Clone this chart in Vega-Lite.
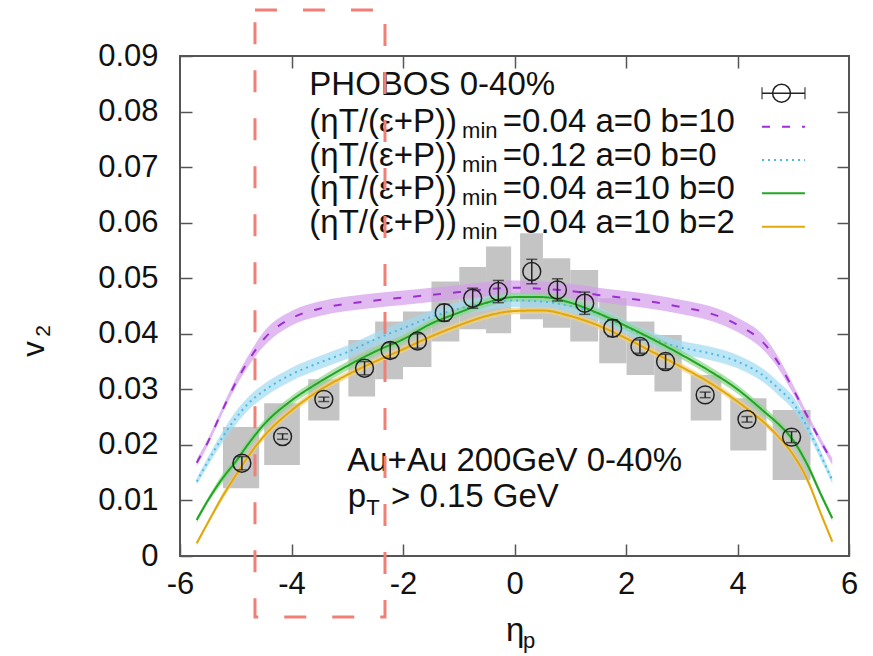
{
  "$schema": "https://vega.github.io/schema/vega-lite/v6.json",
  "width": 669,
  "height": 500,
  "autosize": {"type": "none"},
  "padding": {"left": 180, "top": 56, "right": 24, "bottom": 100},
  "background": "white",
  "config": {"view": {"stroke": "#555", "strokeWidth": 2}, "font": "Liberation Sans"},
  "datasets": {
    "phobos": [
      {"eta": -4.89, "v": 0.0167, "elo": 0.0155, "ehi": 0.0179, "eta_lo": -5.23, "eta_hi": -4.58, "sys_lo": 0.0122, "sys_hi": 0.0232},
      {"eta": -4.16, "v": 0.0215, "elo": 0.0210, "ehi": 0.0220, "eta_lo": -4.49, "eta_hi": -3.85, "sys_lo": 0.0164, "sys_hi": 0.0275},
      {"eta": -3.42, "v": 0.0282, "elo": 0.0278, "ehi": 0.0286, "eta_lo": -3.70, "eta_hi": -3.14, "sys_lo": 0.0244, "sys_hi": 0.0318},
      {"eta": -2.69, "v": 0.0338, "elo": 0.0326, "ehi": 0.0350, "eta_lo": -2.98, "eta_hi": -2.50, "sys_lo": 0.0287, "sys_hi": 0.0389},
      {"eta": -2.23, "v": 0.0370, "elo": 0.0356, "ehi": 0.0384, "eta_lo": -2.50, "eta_hi": -2.00, "sys_lo": 0.0318, "sys_hi": 0.0422},
      {"eta": -1.74, "v": 0.0387, "elo": 0.0374, "ehi": 0.0400, "eta_lo": -2.00, "eta_hi": -1.49, "sys_lo": 0.0340, "sys_hi": 0.0440},
      {"eta": -1.26, "v": 0.0438, "elo": 0.0423, "ehi": 0.0453, "eta_lo": -1.49, "eta_hi": -0.99, "sys_lo": 0.0386, "sys_hi": 0.0494},
      {"eta": -0.75, "v": 0.0464, "elo": 0.0446, "ehi": 0.0482, "eta_lo": -0.99, "eta_hi": -0.51, "sys_lo": 0.0408, "sys_hi": 0.0520},
      {"eta": -0.29, "v": 0.0476, "elo": 0.0456, "ehi": 0.0496, "eta_lo": -0.51, "eta_hi": -0.06, "sys_lo": 0.0401, "sys_hi": 0.0557},
      {"eta": 0.31, "v": 0.0512, "elo": 0.0490, "ehi": 0.0534, "eta_lo": 0.10, "eta_hi": 0.51, "sys_lo": 0.0426, "sys_hi": 0.0581},
      {"eta": 0.77, "v": 0.0479, "elo": 0.0459, "ehi": 0.0499, "eta_lo": 0.51, "eta_hi": 1.00, "sys_lo": 0.0411, "sys_hi": 0.0536},
      {"eta": 1.26, "v": 0.0455, "elo": 0.0435, "ehi": 0.0475, "eta_lo": 1.00, "eta_hi": 1.50, "sys_lo": 0.0386, "sys_hi": 0.0515},
      {"eta": 1.76, "v": 0.0410, "elo": 0.0395, "ehi": 0.0425, "eta_lo": 1.52, "eta_hi": 2.01, "sys_lo": 0.0347, "sys_hi": 0.0464},
      {"eta": 2.25, "v": 0.0377, "elo": 0.0365, "ehi": 0.0389, "eta_lo": 2.01, "eta_hi": 2.51, "sys_lo": 0.0326, "sys_hi": 0.0422},
      {"eta": 2.71, "v": 0.0350, "elo": 0.0337, "ehi": 0.0363, "eta_lo": 2.51, "eta_hi": 3.00, "sys_lo": 0.0296, "sys_hi": 0.0398},
      {"eta": 3.42, "v": 0.0290, "elo": 0.0285, "ehi": 0.0295, "eta_lo": 3.16, "eta_hi": 3.71, "sys_lo": 0.0244, "sys_hi": 0.0326},
      {"eta": 4.17, "v": 0.0246, "elo": 0.0241, "ehi": 0.0251, "eta_lo": 3.87, "eta_hi": 4.52, "sys_lo": 0.0190, "sys_hi": 0.0284},
      {"eta": 4.97, "v": 0.0214, "elo": 0.0204, "ehi": 0.0224, "eta_lo": 4.63, "eta_hi": 5.31, "sys_lo": 0.0137, "sys_hi": 0.0263}
    ],
    "curves": [
      {"s": "a0b10", "eta": -5.7, "v": 0.0168, "lo": 0.0162, "hi": 0.0174},
      {"s": "a0b10", "eta": -5.5, "v": 0.0205, "lo": 0.0199, "hi": 0.0211},
      {"s": "a0b10", "eta": -5.25, "v": 0.0260, "lo": 0.0254, "hi": 0.0266},
      {"s": "a0b10", "eta": -5.0, "v": 0.0312, "lo": 0.0304, "hi": 0.0320},
      {"s": "a0b10", "eta": -4.75, "v": 0.0355, "lo": 0.0345, "hi": 0.0365},
      {"s": "a0b10", "eta": -4.5, "v": 0.0390, "lo": 0.0377, "hi": 0.0403},
      {"s": "a0b10", "eta": -4.0, "v": 0.0428, "lo": 0.0415, "hi": 0.0441},
      {"s": "a0b10", "eta": -3.5, "v": 0.0445, "lo": 0.0432, "hi": 0.0458},
      {"s": "a0b10", "eta": -3.0, "v": 0.0454, "lo": 0.0441, "hi": 0.0467},
      {"s": "a0b10", "eta": -2.5, "v": 0.0460, "lo": 0.0447, "hi": 0.0473},
      {"s": "a0b10", "eta": -2.0, "v": 0.0465, "lo": 0.0452, "hi": 0.0478},
      {"s": "a0b10", "eta": -1.5, "v": 0.0470, "lo": 0.0457, "hi": 0.0483},
      {"s": "a0b10", "eta": -1.0, "v": 0.0475, "lo": 0.0462, "hi": 0.0488},
      {"s": "a0b10", "eta": -0.5, "v": 0.0480, "lo": 0.0467, "hi": 0.0493},
      {"s": "a0b10", "eta": 0.0, "v": 0.0483, "lo": 0.0470, "hi": 0.0496},
      {"s": "a0b10", "eta": 0.5, "v": 0.0481, "lo": 0.0468, "hi": 0.0494},
      {"s": "a0b10", "eta": 1.0, "v": 0.0477, "lo": 0.0464, "hi": 0.0490},
      {"s": "a0b10", "eta": 1.5, "v": 0.0470, "lo": 0.0457, "hi": 0.0483},
      {"s": "a0b10", "eta": 2.0, "v": 0.0464, "lo": 0.0451, "hi": 0.0477},
      {"s": "a0b10", "eta": 2.5, "v": 0.0457, "lo": 0.0444, "hi": 0.0470},
      {"s": "a0b10", "eta": 3.0, "v": 0.0448, "lo": 0.0435, "hi": 0.0461},
      {"s": "a0b10", "eta": 3.5, "v": 0.0437, "lo": 0.0424, "hi": 0.0450},
      {"s": "a0b10", "eta": 4.0, "v": 0.0416, "lo": 0.0403, "hi": 0.0429},
      {"s": "a0b10", "eta": 4.5, "v": 0.0380, "lo": 0.0367, "hi": 0.0393},
      {"s": "a0b10", "eta": 4.75, "v": 0.0345, "lo": 0.0335, "hi": 0.0355},
      {"s": "a0b10", "eta": 5.0, "v": 0.0300, "lo": 0.0292, "hi": 0.0308},
      {"s": "a0b10", "eta": 5.25, "v": 0.0252, "lo": 0.0246, "hi": 0.0258},
      {"s": "a0b10", "eta": 5.5, "v": 0.0205, "lo": 0.0199, "hi": 0.0211},
      {"s": "a0b10", "eta": 5.7, "v": 0.0170, "lo": 0.0164, "hi": 0.0176},
      {"s": "a0b0", "eta": -5.7, "v": 0.0134, "lo": 0.0128, "hi": 0.0140},
      {"s": "a0b0", "eta": -5.5, "v": 0.0170, "lo": 0.0162, "hi": 0.0178},
      {"s": "a0b0", "eta": -5.25, "v": 0.0212, "lo": 0.0202, "hi": 0.0222},
      {"s": "a0b0", "eta": -5.0, "v": 0.0248, "lo": 0.0236, "hi": 0.0260},
      {"s": "a0b0", "eta": -4.75, "v": 0.0277, "lo": 0.0265, "hi": 0.0289},
      {"s": "a0b0", "eta": -4.5, "v": 0.0297, "lo": 0.0285, "hi": 0.0309},
      {"s": "a0b0", "eta": -4.0, "v": 0.0327, "lo": 0.0315, "hi": 0.0339},
      {"s": "a0b0", "eta": -3.5, "v": 0.0348, "lo": 0.0336, "hi": 0.0360},
      {"s": "a0b0", "eta": -3.0, "v": 0.0367, "lo": 0.0355, "hi": 0.0379},
      {"s": "a0b0", "eta": -2.5, "v": 0.0390, "lo": 0.0378, "hi": 0.0402},
      {"s": "a0b0", "eta": -2.0, "v": 0.0410, "lo": 0.0398, "hi": 0.0422},
      {"s": "a0b0", "eta": -1.5, "v": 0.0430, "lo": 0.0418, "hi": 0.0442},
      {"s": "a0b0", "eta": -1.0, "v": 0.0445, "lo": 0.0433, "hi": 0.0457},
      {"s": "a0b0", "eta": -0.5, "v": 0.0455, "lo": 0.0443, "hi": 0.0467},
      {"s": "a0b0", "eta": 0.0, "v": 0.0460, "lo": 0.0448, "hi": 0.0472},
      {"s": "a0b0", "eta": 0.5, "v": 0.0458, "lo": 0.0446, "hi": 0.0470},
      {"s": "a0b0", "eta": 1.0, "v": 0.0450, "lo": 0.0438, "hi": 0.0462},
      {"s": "a0b0", "eta": 1.5, "v": 0.0436, "lo": 0.0424, "hi": 0.0448},
      {"s": "a0b0", "eta": 2.0, "v": 0.0412, "lo": 0.0400, "hi": 0.0424},
      {"s": "a0b0", "eta": 2.5, "v": 0.0390, "lo": 0.0378, "hi": 0.0402},
      {"s": "a0b0", "eta": 3.0, "v": 0.0375, "lo": 0.0363, "hi": 0.0387},
      {"s": "a0b0", "eta": 3.5, "v": 0.0365, "lo": 0.0353, "hi": 0.0377},
      {"s": "a0b0", "eta": 4.0, "v": 0.0350, "lo": 0.0338, "hi": 0.0362},
      {"s": "a0b0", "eta": 4.5, "v": 0.0322, "lo": 0.0310, "hi": 0.0334},
      {"s": "a0b0", "eta": 4.75, "v": 0.0300, "lo": 0.0288, "hi": 0.0312},
      {"s": "a0b0", "eta": 5.0, "v": 0.0275, "lo": 0.0263, "hi": 0.0287},
      {"s": "a0b0", "eta": 5.25, "v": 0.0232, "lo": 0.0222, "hi": 0.0242},
      {"s": "a0b0", "eta": 5.5, "v": 0.0180, "lo": 0.0172, "hi": 0.0188},
      {"s": "a0b0", "eta": 5.7, "v": 0.0136, "lo": 0.0130, "hi": 0.0142},
      {"s": "a10b0", "eta": -5.7, "v": 0.0065, "lo": 0.0060, "hi": 0.0070},
      {"s": "a10b0", "eta": -5.5, "v": 0.0100, "lo": 0.0095, "hi": 0.0105},
      {"s": "a10b0", "eta": -5.25, "v": 0.0138, "lo": 0.0130, "hi": 0.0146},
      {"s": "a10b0", "eta": -5.0, "v": 0.0170, "lo": 0.0162, "hi": 0.0178},
      {"s": "a10b0", "eta": -4.75, "v": 0.0205, "lo": 0.0197, "hi": 0.0213},
      {"s": "a10b0", "eta": -4.5, "v": 0.0236, "lo": 0.0228, "hi": 0.0244},
      {"s": "a10b0", "eta": -4.0, "v": 0.0280, "lo": 0.0272, "hi": 0.0288},
      {"s": "a10b0", "eta": -3.5, "v": 0.0313, "lo": 0.0305, "hi": 0.0321},
      {"s": "a10b0", "eta": -3.0, "v": 0.0342, "lo": 0.0334, "hi": 0.0350},
      {"s": "a10b0", "eta": -2.5, "v": 0.0368, "lo": 0.0360, "hi": 0.0376},
      {"s": "a10b0", "eta": -2.0, "v": 0.0390, "lo": 0.0382, "hi": 0.0398},
      {"s": "a10b0", "eta": -1.5, "v": 0.0418, "lo": 0.0410, "hi": 0.0426},
      {"s": "a10b0", "eta": -1.0, "v": 0.0438, "lo": 0.0430, "hi": 0.0446},
      {"s": "a10b0", "eta": -0.5, "v": 0.0456, "lo": 0.0448, "hi": 0.0464},
      {"s": "a10b0", "eta": 0.0, "v": 0.0466, "lo": 0.0458, "hi": 0.0474},
      {"s": "a10b0", "eta": 0.5, "v": 0.0466, "lo": 0.0458, "hi": 0.0474},
      {"s": "a10b0", "eta": 1.0, "v": 0.0456, "lo": 0.0448, "hi": 0.0464},
      {"s": "a10b0", "eta": 1.5, "v": 0.0437, "lo": 0.0429, "hi": 0.0445},
      {"s": "a10b0", "eta": 2.0, "v": 0.0414, "lo": 0.0406, "hi": 0.0422},
      {"s": "a10b0", "eta": 2.5, "v": 0.0389, "lo": 0.0381, "hi": 0.0397},
      {"s": "a10b0", "eta": 3.0, "v": 0.0362, "lo": 0.0354, "hi": 0.0370},
      {"s": "a10b0", "eta": 3.5, "v": 0.0333, "lo": 0.0325, "hi": 0.0341},
      {"s": "a10b0", "eta": 4.0, "v": 0.0300, "lo": 0.0292, "hi": 0.0308},
      {"s": "a10b0", "eta": 4.5, "v": 0.0258, "lo": 0.0250, "hi": 0.0266},
      {"s": "a10b0", "eta": 4.75, "v": 0.0236, "lo": 0.0228, "hi": 0.0244},
      {"s": "a10b0", "eta": 5.0, "v": 0.0208, "lo": 0.0200, "hi": 0.0216},
      {"s": "a10b0", "eta": 5.25, "v": 0.0165, "lo": 0.0157, "hi": 0.0173},
      {"s": "a10b0", "eta": 5.5, "v": 0.0110, "lo": 0.0105, "hi": 0.0115},
      {"s": "a10b0", "eta": 5.7, "v": 0.0068, "lo": 0.0063, "hi": 0.0073},
      {"s": "a10b2", "eta": -5.7, "v": 0.0023, "lo": 0.0019, "hi": 0.0027},
      {"s": "a10b2", "eta": -5.5, "v": 0.0060, "lo": 0.0056, "hi": 0.0064},
      {"s": "a10b2", "eta": -5.25, "v": 0.0105, "lo": 0.0099, "hi": 0.0111},
      {"s": "a10b2", "eta": -5.0, "v": 0.0145, "lo": 0.0139, "hi": 0.0151},
      {"s": "a10b2", "eta": -4.75, "v": 0.0183, "lo": 0.0177, "hi": 0.0189},
      {"s": "a10b2", "eta": -4.5, "v": 0.0215, "lo": 0.0209, "hi": 0.0221},
      {"s": "a10b2", "eta": -4.0, "v": 0.0262, "lo": 0.0256, "hi": 0.0268},
      {"s": "a10b2", "eta": -3.5, "v": 0.0298, "lo": 0.0292, "hi": 0.0304},
      {"s": "a10b2", "eta": -3.0, "v": 0.0326, "lo": 0.0320, "hi": 0.0332},
      {"s": "a10b2", "eta": -2.5, "v": 0.0350, "lo": 0.0344, "hi": 0.0356},
      {"s": "a10b2", "eta": -2.0, "v": 0.0372, "lo": 0.0366, "hi": 0.0378},
      {"s": "a10b2", "eta": -1.5, "v": 0.0395, "lo": 0.0389, "hi": 0.0401},
      {"s": "a10b2", "eta": -1.0, "v": 0.0415, "lo": 0.0409, "hi": 0.0421},
      {"s": "a10b2", "eta": -0.5, "v": 0.0432, "lo": 0.0426, "hi": 0.0438},
      {"s": "a10b2", "eta": 0.0, "v": 0.0441, "lo": 0.0435, "hi": 0.0447},
      {"s": "a10b2", "eta": 0.5, "v": 0.0442, "lo": 0.0436, "hi": 0.0448},
      {"s": "a10b2", "eta": 1.0, "v": 0.0432, "lo": 0.0426, "hi": 0.0438},
      {"s": "a10b2", "eta": 1.5, "v": 0.0415, "lo": 0.0409, "hi": 0.0421},
      {"s": "a10b2", "eta": 2.0, "v": 0.0392, "lo": 0.0386, "hi": 0.0398},
      {"s": "a10b2", "eta": 2.5, "v": 0.0366, "lo": 0.0360, "hi": 0.0372},
      {"s": "a10b2", "eta": 3.0, "v": 0.0340, "lo": 0.0334, "hi": 0.0346},
      {"s": "a10b2", "eta": 3.5, "v": 0.0312, "lo": 0.0306, "hi": 0.0318},
      {"s": "a10b2", "eta": 4.0, "v": 0.0278, "lo": 0.0272, "hi": 0.0284},
      {"s": "a10b2", "eta": 4.5, "v": 0.0238, "lo": 0.0232, "hi": 0.0244},
      {"s": "a10b2", "eta": 4.75, "v": 0.0213, "lo": 0.0207, "hi": 0.0219},
      {"s": "a10b2", "eta": 5.0, "v": 0.0182, "lo": 0.0176, "hi": 0.0188},
      {"s": "a10b2", "eta": 5.25, "v": 0.0138, "lo": 0.0132, "hi": 0.0144},
      {"s": "a10b2", "eta": 5.5, "v": 0.0075, "lo": 0.0071, "hi": 0.0079},
      {"s": "a10b2", "eta": 5.7, "v": 0.0026, "lo": 0.0022, "hi": 0.0030}
    ],
    "legendlines": [
      {"s": "a0b10", "eta": 4.44, "v": 0.07726},
      {"s": "a0b10", "eta": 5.21, "v": 0.07726},
      {"s": "a0b0", "eta": 4.44, "v": 0.07128},
      {"s": "a0b0", "eta": 5.21, "v": 0.07128},
      {"s": "a10b0", "eta": 4.44, "v": 0.06528},
      {"s": "a10b0", "eta": 5.21, "v": 0.06528},
      {"s": "a10b2", "eta": 4.44, "v": 0.05927},
      {"s": "a10b2", "eta": 5.21, "v": 0.05927}
    ],
    "legendpt": [
      {"eta": 4.79, "v": 0.0833, "eta_lo": 4.44, "eta_hi": 5.21}
    ],
    "textmain": [
      {"eta": -3.68, "v": 0.08297, "txt": "PHOBOS 0-40%"},
      {"eta": -3.68, "v": 0.07631, "txt": "(ηT/(ε+P))"},
      {"eta": -3.68, "v": 0.07028, "txt": "(ηT/(ε+P))"},
      {"eta": -3.68, "v": 0.06426, "txt": "(ηT/(ε+P))"},
      {"eta": -3.68, "v": 0.05814, "txt": "(ηT/(ε+P))"},
      {"eta": -0.21, "v": 0.07631, "txt": "=0.04 a=0 b=10"},
      {"eta": -0.21, "v": 0.07028, "txt": "=0.12 a=0 b=0"},
      {"eta": -0.21, "v": 0.06426, "txt": "=0.04 a=10 b=0"},
      {"eta": -0.21, "v": 0.05814, "txt": "=0.04 a=10 b=2"},
      {"eta": -3.0, "v": 0.01530, "txt": "Au+Au 200GeV 0-40%"},
      {"eta": -2.99, "v": 0.00882, "txt": "p"},
      {"eta": -2.215, "v": 0.00882, "txt": "> 0.15 GeV"},
      {"eta": -0.1525, "v": -0.0153, "txt": "η"}
    ],
    "textsub": [
      {"eta": -0.94, "v": 0.07523, "txt": "min"},
      {"eta": -0.94, "v": 0.06920, "txt": "min"},
      {"eta": -0.94, "v": 0.06318, "txt": "min"},
      {"eta": -0.94, "v": 0.05706, "txt": "min"},
      {"eta": -2.66, "v": 0.00738, "txt": "T"},
      {"eta": 0.1525, "v": -0.01656, "txt": "p"}
    ],
    "ytitle": [{"eta": -8.44, "v": 0.03726, "txt": "v"}],
    "ytitlesub": [{"eta": -8.332, "v": 0.0405, "txt": "2"}],
    "region": [{"x1": -4.655, "x2": -2.323, "y1": -0.011, "y2": 0.0983}]
  },
  "resolve": {"axis": {"x": "independent", "y": "independent"}},
  "layer": [
    {
      "data": {"name": "phobos"},
      "mark": {"type": "rect", "color": "#c4c4c4"},
      "encoding": {
        "x": {"field": "eta_lo", "type": "quantitative", "scale": {"domain": [-6, 6], "nice": false, "zero": false},
          "axis": {"orient": "bottom", "values": [-6, -4, -2, 0, 2, 4, 6], "domain": false, "grid": false, "tickSize": -12, "tickWidth": 1.5, "tickColor": "#555", "labelFontSize": 31, "labelFont": "Liberation Sans", "labelColor": "#111", "labelPadding": 25, "labelFlush": false, "labelOverlap": false, "labelExpr": "'' + datum.value", "title": null}},
        "x2": {"field": "eta_hi"},
        "y": {"field": "sys_lo", "type": "quantitative", "scale": {"domain": [0, 0.09], "nice": false, "zero": false},
          "axis": {"orient": "left", "values": [0, 0.01, 0.02, 0.03, 0.04, 0.05, 0.06, 0.07, 0.08, 0.09], "domain": false, "grid": false, "tickSize": -12, "tickWidth": 1.5, "tickColor": "#555", "labelFontSize": 31, "labelFont": "Liberation Sans", "labelColor": "#111", "labelPadding": 34, "labelFlush": false, "labelOverlap": false, "labelExpr": "datum.value == 0 ? '0' : format(datum.value, '.2f')", "title": null}},
        "y2": {"field": "sys_hi"}
      }
    },
    {
      "data": {"name": "curves"},
      "mark": {"type": "area", "opacity": 0.7, "interpolate": "monotone"},
      "encoding": {
        "x": {"field": "eta", "type": "quantitative",
          "axis": {"orient": "top", "values": [-4, -2, 0, 2, 4], "domain": false, "grid": false, "labels": false, "tickSize": -12, "tickWidth": 1.5, "tickColor": "#555", "title": null}},
        "y": {"field": "lo", "type": "quantitative",
          "axis": {"orient": "right", "values": [0.01, 0.02, 0.03, 0.04, 0.05, 0.06, 0.07, 0.08], "domain": false, "grid": false, "labels": false, "tickSize": -12, "tickWidth": 1.5, "tickColor": "#555", "title": null}},
        "y2": {"field": "hi"},
        "fill": {"field": "s", "type": "nominal", "scale": {"domain": ["a0b10", "a0b0", "a10b0", "a10b2"], "range": ["#d49cec", "#9fdcf2", "#8fd68f", "#f2d27a"]}, "legend": null}
      }
    },
    {
      "data": {"name": "curves"},
      "mark": {"type": "line", "strokeWidth": 2, "interpolate": "monotone"},
      "encoding": {
        "x": {"field": "eta", "type": "quantitative", "axis": null},
        "y": {"field": "v", "type": "quantitative", "axis": null},
        "stroke": {"field": "s", "type": "nominal", "scale": {"domain": ["a0b10", "a0b0", "a10b0", "a10b2"], "range": ["#9b2fd2", "#4cb9e3", "#22a622", "#e2a80a"]}, "legend": null},
        "strokeDash": {"field": "s", "type": "nominal", "scale": {"domain": ["a0b10", "a0b0", "a10b0", "a10b2"], "range": [[8, 12], [2, 4], [1, 0], [1, 0]]}, "legend": null}
      }
    },
    {
      "data": {"name": "phobos"},
      "mark": {"type": "rule", "color": "#222", "strokeWidth": 1.5},
      "encoding": {
        "x": {"field": "eta", "type": "quantitative", "axis": null},
        "y": {"field": "elo", "type": "quantitative", "axis": null},
        "y2": {"field": "ehi"}
      }
    },
    {
      "data": {"name": "phobos"},
      "mark": {"type": "tick", "orient": "horizontal", "color": "#222", "size": 11, "thickness": 1.5},
      "encoding": {
        "x": {"field": "eta", "type": "quantitative", "axis": null},
        "y": {"field": "elo", "type": "quantitative", "axis": null}
      }
    },
    {
      "data": {"name": "phobos"},
      "mark": {"type": "tick", "orient": "horizontal", "color": "#222", "size": 11, "thickness": 1.5},
      "encoding": {
        "x": {"field": "eta", "type": "quantitative", "axis": null},
        "y": {"field": "ehi", "type": "quantitative", "axis": null}
      }
    },
    {
      "data": {"name": "phobos"},
      "mark": {"type": "point", "shape": "circle", "filled": false, "size": 320, "strokeWidth": 1.5, "color": "#222", "opacity": 1},
      "encoding": {
        "x": {"field": "eta", "type": "quantitative", "axis": null},
        "y": {"field": "v", "type": "quantitative", "axis": null}
      }
    },
    {
      "data": {"name": "legendlines"},
      "mark": {"type": "line", "strokeWidth": 2},
      "encoding": {
        "x": {"field": "eta", "type": "quantitative", "axis": null},
        "y": {"field": "v", "type": "quantitative", "axis": null},
        "stroke": {"field": "s", "type": "nominal", "legend": null},
        "strokeDash": {"field": "s", "type": "nominal", "legend": null}
      }
    },
    {
      "data": {"name": "legendpt"},
      "mark": {"type": "rule", "color": "#222", "strokeWidth": 1.5},
      "encoding": {
        "x": {"field": "eta_lo", "type": "quantitative", "axis": null},
        "x2": {"field": "eta_hi"},
        "y": {"field": "v", "type": "quantitative", "axis": null}
      }
    },
    {
      "data": {"name": "legendpt"},
      "mark": {"type": "tick", "orient": "vertical", "color": "#222", "size": 12, "thickness": 1.5},
      "encoding": {
        "x": {"field": "eta_lo", "type": "quantitative", "axis": null},
        "y": {"field": "v", "type": "quantitative", "axis": null}
      }
    },
    {
      "data": {"name": "legendpt"},
      "mark": {"type": "tick", "orient": "vertical", "color": "#222", "size": 12, "thickness": 1.5},
      "encoding": {
        "x": {"field": "eta_hi", "type": "quantitative", "axis": null},
        "y": {"field": "v", "type": "quantitative", "axis": null}
      }
    },
    {
      "data": {"name": "legendpt"},
      "mark": {"type": "point", "shape": "circle", "filled": false, "size": 320, "strokeWidth": 1.5, "color": "#222", "opacity": 1},
      "encoding": {
        "x": {"field": "eta", "type": "quantitative", "axis": null},
        "y": {"field": "v", "type": "quantitative", "axis": null}
      }
    },
    {
      "data": {"name": "textmain"},
      "mark": {"type": "text", "align": "left", "baseline": "alphabetic", "fontSize": 33, "color": "#111", "font": "Liberation Sans"},
      "encoding": {
        "x": {"field": "eta", "type": "quantitative", "axis": null},
        "y": {"field": "v", "type": "quantitative", "axis": null},
        "text": {"field": "txt"}
      }
    },
    {
      "data": {"name": "textsub"},
      "mark": {"type": "text", "align": "left", "baseline": "alphabetic", "fontSize": 22, "color": "#111", "font": "Liberation Sans"},
      "encoding": {
        "x": {"field": "eta", "type": "quantitative", "axis": null},
        "y": {"field": "v", "type": "quantitative", "axis": null},
        "text": {"field": "txt"}
      }
    },
    {
      "data": {"name": "ytitle"},
      "mark": {"type": "text", "align": "center", "baseline": "alphabetic", "angle": 270, "fontSize": 31, "color": "#111", "font": "Liberation Sans"},
      "encoding": {
        "x": {"field": "eta", "type": "quantitative", "axis": null},
        "y": {"field": "v", "type": "quantitative", "axis": null},
        "text": {"field": "txt"}
      }
    },
    {
      "data": {"name": "ytitlesub"},
      "mark": {"type": "text", "align": "center", "baseline": "alphabetic", "angle": 270, "fontSize": 21, "color": "#111", "font": "Liberation Sans"},
      "encoding": {
        "x": {"field": "eta", "type": "quantitative", "axis": null},
        "y": {"field": "v", "type": "quantitative", "axis": null},
        "text": {"field": "txt"}
      }
    },
    {
      "data": {"name": "region"},
      "mark": {"type": "rect", "fillOpacity": 0, "stroke": "#f07f76", "strokeWidth": 3, "strokeDash": [22, 26]},
      "encoding": {
        "x": {"field": "x1", "type": "quantitative", "axis": null},
        "x2": {"field": "x2"},
        "y": {"field": "y1", "type": "quantitative", "axis": null},
        "y2": {"field": "y2"}
      }
    }
  ]
}
